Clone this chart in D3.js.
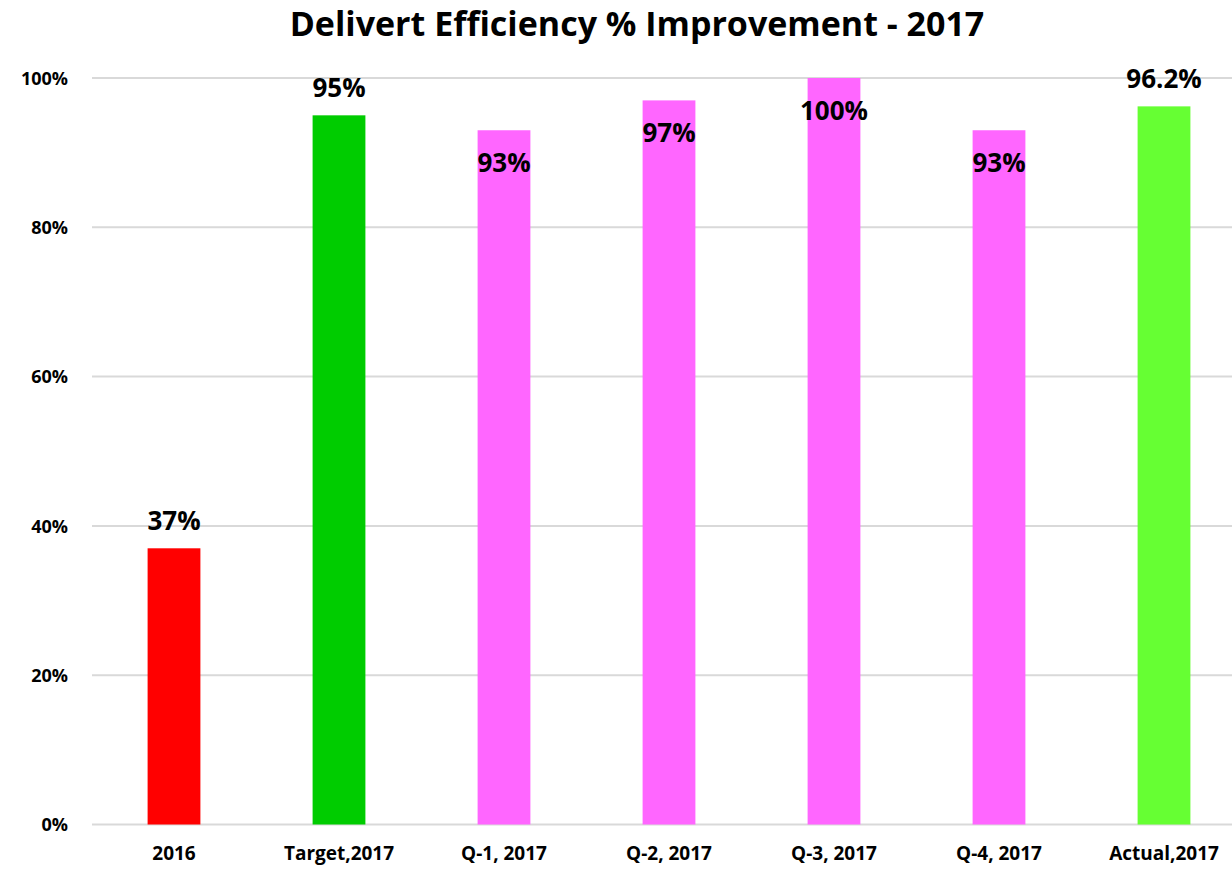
<!DOCTYPE html>
<html>
<head>
<meta charset="utf-8">
<script src="https://cdn.jsdelivr.net/npm/d3@7"></script>
<style>
  body { margin: 0; background: #fff; }
  text { font-family: "Open Sans", sans-serif; font-weight: bold; }
</style>
</head>
<body>
<div id="grafico"></div>
<script>
// dados do grafico
const categorias = ["2016", "Target,2017", "Q-1, 2017", "Q-2, 2017", "Q-3, 2017", "Q-4, 2017", "Actual,2017"];
const valores = [37, 95, 93, 97, 100, 93, 96.2];
const rotulos = ["37%", "95%", "93%", "97%", "100%", "93%", "96.2%"];
const posicaoRotulo = ["acima", "acima", "dentro", "dentro", "dentro", "dentro", "acima"];
const cores = ["#ff0000", "#00cc00", "#ff66ff", "#ff66ff", "#ff66ff", "#ff66ff", "#66ff33"];
const ticksY = [0, 20, 40, 60, 80, 100];

const width = 1232;
const height = 872;

const svg = d3.select("#grafico")
    .append("svg")
    .attr("width", width)
    .attr("height", height);

const x = d3.scaleBand()
    .domain(categorias)
    .range([91.5, 1246.5])
    .paddingInner(0.68)
    .paddingOuter(0.34);

const y = d3.scaleLinear()
    .domain([0, 100])
    .range([824.5, 78]);

// titulo
svg.append("text")
    .attr("x", 637)
    .attr("y", 36)
    .attr("text-anchor", "middle")
    .style("font-size", "34px")
    .text("Delivert Efficiency % Improvement - 2017");

// linhas de grade
svg.selectAll(".grade")
    .data(ticksY)
    .enter()
    .append("line")
    .attr("class", "grade")
    .attr("x1", 92)
    .attr("x2", width)
    .attr("y1", d => y(d))
    .attr("y2", d => y(d))
    .attr("stroke", "#d9d9d9")
    .attr("stroke-width", 2);

// eixo y
const eixoY = d3.axisLeft(y)
    .tickValues(ticksY)
    .tickFormat(d => d + "%")
    .tickSize(0)
    .tickPadding(0);

svg.append("g")
    .attr("transform", "translate(68,0)")
    .call(eixoY)
    .call(g => g.select(".domain").remove())
    .selectAll("text")
    .style("font-size", "18px")
    .attr("fill", "#000")
    .attr("dy", "0.35em");

// eixo x
const eixoX = d3.axisBottom(x).tickSize(0).tickPadding(0);

svg.append("g")
    .attr("transform", "translate(0,846)")
    .call(eixoX)
    .call(g => g.select(".domain").remove())
    .selectAll("text")
    .style("font-size", "19px")
    .attr("fill", "#000")
    .attr("dy", "0.71em");

// barras
svg.selectAll(".barra")
    .data(valores)
    .enter()
    .append("rect")
    .attr("class", "barra")
    .attr("x", (d, i) => x(categorias[i]))
    .attr("width", x.bandwidth())
    .attr("y", d => y(d))
    .attr("height", d => y(0) - y(d))
    .attr("fill", (d, i) => cores[i]);

// rotulos de dados
svg.selectAll(".rotulo")
    .data(valores)
    .enter()
    .append("text")
    .attr("class", "rotulo")
    .attr("x", (d, i) => x(categorias[i]) + x.bandwidth() / 2)
    .attr("y", (d, i) => posicaoRotulo[i] === "acima" ? y(d) - 18 : y(d) + 42)
    .attr("text-anchor", "middle")
    .style("font-size", "26px")
    .text((d, i) => rotulos[i]);
</script>
</body>
</html>
